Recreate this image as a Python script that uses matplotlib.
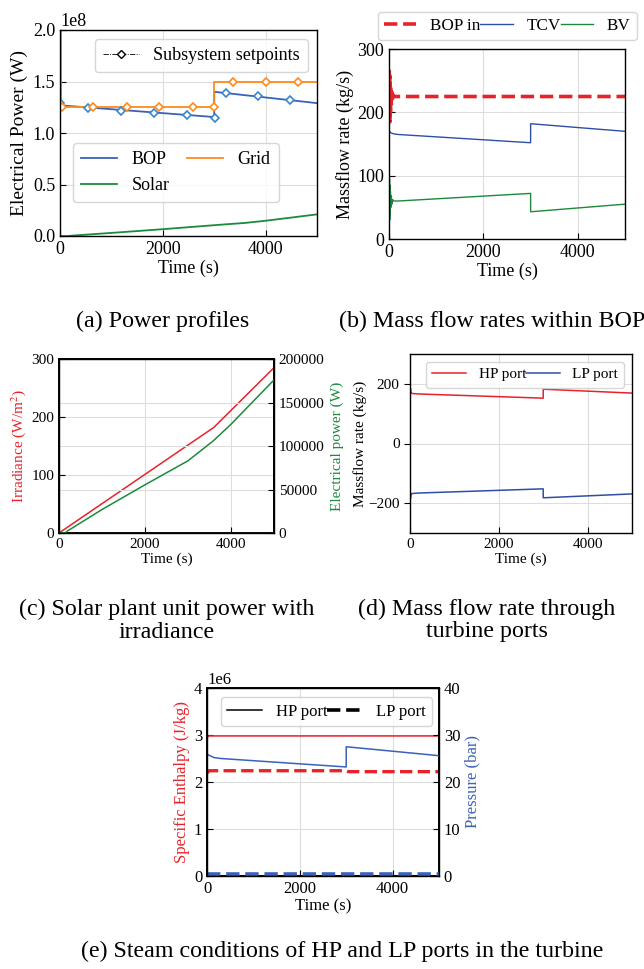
"""Composite of plant response panels (a)-(e)."""
import matplotlib
matplotlib.use("Agg")
import matplotlib.pyplot as plt
from matplotlib.lines import Line2D

plt.rcParams.update({
    "font.family": ["Liberation Serif", "DejaVu Serif"],
    "mathtext.fontset": "stix",
    "xtick.direction": "in",
    "ytick.direction": "in",
    "axes.linewidth": 1.0,
})

W, H = 644, 969

RED = "#e8222a"
BLUE = "#3a62b8"
DBLUE = "#2f4ea6"
GREEN = "#1c8a3c"
ORANGE = "#ff8a1c"
LBLUE = "#3a86cc"
GRIDC = "#dddddd"

# (a) power profiles
T_GRID = [0, 20, 3000, 5000]
P_GRID = [2.0e8, 1.25e8, 1.5e8, 1.5e8]
T_BOP = [0, 10, 20, 100, 3000, 3001, 5000]
P_BOP = [1.92e8, 1.30e8, 1.28e8, 1.265e8, 1.155e8, 1.40e8, 1.29e8]
T_SOLAR = [0, 150, 300, 1000, 2000, 3000, 3600, 4000, 5000]
P_SOLAR = [0, 0, 0.006e8, 0.03e8, 0.066e8, 0.105e8, 0.127e8, 0.148e8, 0.21e8]
T_SP_BOP = [0, 550, 1190, 1820, 2470, 3010, 3230, 3850, 4470]
P_SP_BOP = [1.29e8, 1.24e8, 1.217e8, 1.194e8, 1.171e8, 1.149e8, 1.387e8, 1.36e8, 1.325e8]
T_SP_GRID = [30, 650, 1300, 1935, 2580, 3000, 3360, 4000, 4640]
P_SP_GRID = [1.25e8, 1.25e8, 1.25e8, 1.25e8, 1.25e8, 1.25e8, 1.5e8, 1.5e8, 1.5e8]

# (b) mass flow rates within BOP
T_IN = [0, 5, 10, 15, 20, 25, 30, 40, 50, 60, 70, 80, 100, 5000]
M_IN = [225, 265, 188, 258, 185, 250, 200, 240, 210, 232, 218, 228, 225, 225]
T_TCV = [0, 5, 15, 30, 60, 100, 200, 3000, 3001, 5000]
M_TCV = [148, 172, 170, 168, 167, 166, 165, 152, 182, 170]
T_BV = [0, 5, 10, 15, 20, 25, 30, 40, 50, 60, 80, 100, 200, 3000, 3001, 5000]
M_BV = [100, 20, 95, 30, 85, 40, 75, 50, 68, 55, 62, 60, 60, 72, 43, 55]

# (c) solar plant unit
T_IRR = [0, 3600, 5000]
IRR = [0, 182, 285]
T_PV = [0, 147, 200, 285, 1000, 2000, 3000, 3590, 4000, 5000]
P_PV = [0, 0, 2500, 5000, 27000, 55400, 83000, 106000, 125000, 176000]

# (d) turbine port mass flows
T_PORT = [0, 5, 10, 20, 40, 100, 200, 3000, 3001, 5000]
M_HP = [220, 150, 185, 172, 168, 167, 166, 152, 182, 169]
M_LP = [-220, -150, -185, -172, -168, -167, -166, -152, -182, -169]

# (e) steam conditions
T_H_HP = [0, 30, 5000]
H_HP = [2.93e6, 2.98e6, 2.98e6]
T_H_LP = [0, 40, 3000, 3050, 5000]
H_LP = [2.19e6, 2.24e6, 2.24e6, 2.22e6, 2.22e6]
T_P_HP = [0, 150, 300, 3000, 3001, 5000]
P_HP = [25.9, 25.2, 25.0, 23.2, 27.5, 25.6]
T_P_LP = [0, 5000]
P_LP = [0.45, 0.45]

TIME_TICKS = [0, 2000, 4000]
CAP_FS = 17.3


def box(left, top, right, bottom):
    return [left / W, 1 - bottom / H, (right - left) / W, (bottom - top) / H]


def style_ax(ax, fs):
    ax.grid(True, color=GRIDC, linewidth=0.8)
    ax.set_axisbelow(True)
    ax.tick_params(labelsize=fs, length=4)
    ax.set_xlim(0, 5000)
    ax.set_xticks(TIME_TICKS)
    ax.set_xlabel("Time (s)", fontsize=fs, labelpad=1)


def caption(x, y, text):
    fig.text(x / W, 1 - y / H, text, ha="center", va="center", fontsize=CAP_FS)


fig = plt.figure(figsize=(W / 100, H / 100), dpi=100)

# ---- (a)
ax = fig.add_axes(box(60, 30, 317, 236))
style_ax(ax, 13)
h_bop, = ax.plot(T_BOP, P_BOP, color=BLUE, lw=1.3)
h_grid, = ax.plot(T_GRID, P_GRID, color=ORANGE, lw=1.3, drawstyle="steps-post")
h_sol, = ax.plot(T_SOLAR, P_SOLAR, color=GREEN, lw=1.3)
ax.plot(T_SP_BOP, P_SP_BOP, ls="none", marker="D", ms=4.5, mfc="white",
        mec=LBLUE, mew=1.2)
ax.plot(T_SP_GRID, P_SP_GRID, ls="none", marker="D", ms=4.5, mfc="white",
        mec=ORANGE, mew=1.2)
ax.set_ylim(0, 2.0e8)
ax.set_yticks([0, 0.5e8, 1.0e8, 1.5e8, 2.0e8])
ax.set_ylabel("Electrical Power (W)", fontsize=14, labelpad=3)
ax.yaxis.get_offset_text().set_fontsize(13)
leg1 = ax.legend([h_bop, h_sol, h_grid], ["BOP", "Solar", "Grid"],
                 loc="upper left", bbox_to_anchor=(73 / W, 1 - 143 / H),
                 bbox_transform=fig.transFigure, borderaxespad=0,
                 ncol=2, fontsize=13, handlelength=2.0, columnspacing=0.95,
                 borderpad=0.45)
ax.add_artist(leg1)
sp = Line2D([], [], color="black", lw=0.6, ls="-.", marker="D", ms=4,
            mfc="white", mec="black")
ax.legend([sp], ["Subsystem setpoints"], loc="upper right", fontsize=13,
          handlelength=2.0, borderpad=0.45)
caption(163, 321, "(a) Power profiles")

# ---- (b)
ax = fig.add_axes(box(389, 49, 625, 239))
style_ax(ax, 13)
ax.plot(T_IN, M_IN, color=RED, lw=2.6, ls="--", label="BOP in")
ax.plot(T_TCV, M_TCV, color=DBLUE, lw=1.0, label="TCV")
ax.plot(T_BV, M_BV, color=GREEN, lw=1.0, label="BV")
ax.set_ylim(0, 300)
ax.set_yticks([0, 100, 200, 300])
ax.set_ylabel("Massflow rate (kg/s)", fontsize=13, labelpad=2)
fig.legend(*ax.get_legend_handles_labels(), loc="lower left",
           bbox_to_anchor=(378 / W, 1 - 40 / H), borderaxespad=0, ncol=3,
           fontsize=12.3, handlelength=1.9, columnspacing=0.0,
           handletextpad=0.8, borderpad=0.35)
caption(492, 321, "(b) Mass flow rates within BOP")

# ---- (c)
ax = fig.add_axes(box(59, 359, 274, 533))
style_ax(ax, 11)
ax.plot(T_IRR, IRR, color=RED, lw=1.1)
ax.set_ylim(0, 300)
ax.set_yticks([0, 100, 200, 300])
ax.set_ylabel("Irradiance (W/m$^2$)", fontsize=11, color=RED, labelpad=2)
ax2 = ax.twinx()
ax2.plot(T_PV, P_PV, color=GREEN, lw=1.1)
ax2.set_ylim(0, 200000)
ax2.set_yticks([0, 50000, 100000, 150000, 200000])
ax2.tick_params(labelsize=11, length=4, direction="in")
ax2.grid(True, color=GRIDC, linewidth=0.8)
ax2.set_ylabel("Electrical power (W)", fontsize=11, color=GREEN, labelpad=4)
for s in ax.spines.values():
    s.set_linewidth(1.4)
caption(167, 609, "(c) Solar plant unit power with")
caption(167, 632, "irradiance")

# ---- (d)
ax = fig.add_axes(box(410, 354, 632, 533))
style_ax(ax, 11)
ax.plot(T_PORT, M_HP, color=RED, lw=1.1, label="HP port")
ax.plot(T_PORT, M_LP, color=DBLUE, lw=1.1, label="LP port")
ax.set_ylim(-300, 300)
ax.set_yticks([-200, 0, 200])
ax.tick_params(axis="y", direction="out")
ax.set_ylabel("Massflow rate (kg/s)", fontsize=11, labelpad=1)
ax.legend(loc="upper right", ncol=2, fontsize=11, handlelength=2.2,
          columnspacing=0.0, handletextpad=0.85, borderpad=0.4)
caption(487, 609, "(d) Mass flow rate through")
caption(487, 632, "turbine ports")

# ---- (e)
ax = fig.add_axes(box(207, 688, 439, 876))
style_ax(ax, 12)
ax.plot(T_H_HP, H_HP, color=RED, lw=1.1)
ax.plot(T_H_LP, H_LP, color=RED, lw=2.4, ls="--")
ax.set_ylim(0, 4e6)
ax.set_yticks([0, 1e6, 2e6, 3e6, 4e6])
ax.set_ylabel("Specific Enthalpy (J/kg)", fontsize=12, color=RED, labelpad=3)
ax.yaxis.get_offset_text().set_fontsize(12)
ax2 = ax.twinx()
ax2.plot(T_P_HP, P_HP, color=BLUE, lw=1.1)
ax2.plot(T_P_LP, P_LP, color=BLUE, lw=2.6, ls="--")
ax2.set_ylim(0, 40)
ax2.set_yticks([0, 10, 20, 30, 40])
ax2.tick_params(labelsize=12, length=4, direction="in")
ax2.set_ylabel("Pressure (bar)", fontsize=12, color=BLUE, labelpad=3)
for s in ax.spines.values():
    s.set_linewidth(1.4)
hp = Line2D([], [], color="black", lw=1.1)
lp = Line2D([], [], color="black", lw=2.6, ls="--")
ax.legend([hp, lp], ["HP port", "LP port"], loc="upper right",
          bbox_to_anchor=(432 / W, 1 - 697 / H), bbox_transform=fig.transFigure,
          borderaxespad=0, ncol=2, fontsize=12, handlelength=2.1,
          columnspacing=0.0, handletextpad=0.8, borderpad=0.4)
caption(342, 951, "(e) Steam conditions of HP and LP ports in the turbine")

fig.savefig("out.png", dpi=100)
